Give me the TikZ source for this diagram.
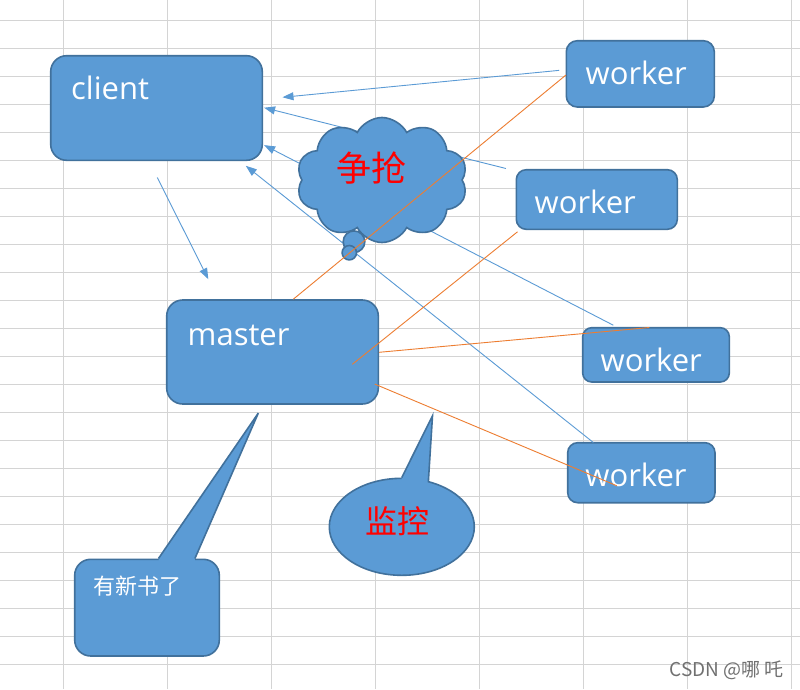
\documentclass[tikz,border=0pt]{standalone}
\usepackage{fontspec}
\setmainfont{Open Sans}
\newfontfamily\cjk{Noto Sans CJK SC}
\usetikzlibrary{shapes.symbols,shapes.geometric,arrows.meta,calc}
\definecolor{boxfill}{HTML}{5B9BD5}
\definecolor{boxline}{HTML}{41719C}
\definecolor{orangeline}{HTML}{ED7D31}
\definecolor{gridc}{HTML}{D4D4D4}
\definecolor{wm}{HTML}{707070}
\begin{document}
\begin{tikzpicture}[x=1pt,y=-1pt,
  gridline/.style={gridc,line width=1pt},
  shapebox/.style={draw=boxline,fill=boxfill,line width=1.6pt,inner sep=0pt},
  lbl/.style={anchor=base west,inner sep=0pt,text=white,font=\fontsize{31}{31}\selectfont},
  redlbl/.style={inner sep=0pt,text=red},
  bluearrow/.style={boxfill,line width=0.9pt,-{Triangle[length=11pt,width=8pt]}},
  orangelink/.style={orangeline,line width=0.9pt},
]
% background and sheet grid
\fill[white] (0,0) rectangle (800,689);
\useasboundingbox (0,0) rectangle (800,689);
\foreach \i in {0,...,7} \draw[gridline] ({63.3+104*\i},0) -- ({63.3+104*\i},689);
\foreach \j in {0,...,23} \draw[gridline] (0,{20.3+28*\j}) -- (800,{20.3+28*\j});

% boxes
\node[shapebox,rounded corners=16pt,minimum width=211.6pt,minimum height=104.6pt] (client) at (156.5,108) {};
\node[shapebox,rounded corners=11pt,minimum width=148pt,minimum height=66.3pt] (w1) at (640.3,73.85) {};
\node[shapebox,rounded corners=10pt,minimum width=161pt,minimum height=59.6pt] (w2) at (596.8,199.5) {};
\node[shapebox,rounded corners=9pt,minimum width=146.6pt,minimum height=54.3pt] (w3) at (656,354.85) {};
\node[shapebox,rounded corners=10pt,minimum width=147.3pt,minimum height=60pt] (w4) at (641.35,472.7) {};
\node[shapebox,rounded corners=16pt,minimum width=211.6pt,minimum height=104pt] (master) at (272.5,352) {};

% blue arrows (behind the cloud)
\draw[bluearrow] ($(w1.west)+(-6.3,-3.5)$) -- ($(client.east)+(19.4,-10.7)$);
\draw[bluearrow] ($(w2.north west)+(-9.6,-0.4)$) -- ($(client.east)+(1,-0.3)$);
\draw[bluearrow] ($(w3.north)+(-42.7,-1.7)$) -- ($(client.south east)+(1,-16)$);
\draw[bluearrow] ($(w4.north)+(-48,0.6)$) -- ($(client.south east)+(-17.3,4.7)$);
\draw[bluearrow] ($(client.south)+(0.8,16.4)$) -- ($(master.north)+(-64.2,-20)$);

% thought cloud
\node[shapebox,cloud,cloud puffs=10,cloud puff arc=125,cloud ignores aspect,minimum width=171pt,minimum height=125pt] (cloud) at (382,180) {};
\node[shapebox,circle,minimum size=21.6pt] (bub1) at (354,241.7) {};
\node[shapebox,circle,minimum size=14.4pt] (bub2) at (349.3,252.7) {};
\node[redlbl,font=\cjk\fontsize{35}{35}\selectfont] (fight) at (371.3,168.3) {争抢};

% labels
\node[lbl] (clientlbl) at (71,99.3) {client};
\node[lbl] (w1lbl) at (585.5,84.3) {worker};
\node[lbl] (w2lbl) at (534.5,213.3) {worker};
\node[lbl] (w3lbl) at (600.5,371) {worker};
\node[lbl] (w4lbl) at (585.2,486.7) {worker};
\node[lbl] (masterlbl) at (187.5,345.7) {master};

% orange links
\draw[orangelink] ($(w1.west)+(0.4,1.2)$) -- ($(master.north)+(20.8,0)$);
\draw[orangelink] ($(w2.south west)+(2,1.7)$) -- ($(master.center)+(79.8,12.3)$);
\draw[orangelink] ($(master.east)+(0,0.3)$) -- ($(w3.north)+(-6.7,0.6)$);
\draw[orangelink] ($(master.south east)+(-4.3,-20.7)$) -- ($(w4.center)+(-24.65,13)$);

% rectangular callout
\node[shapebox,rounded corners=16pt,minimum width=144.6pt,minimum height=96.7pt] (note) at (147,607.65) {};
\coordinate (notetip) at ($(master.south)+(-14.2,8.3)$);
\coordinate (noteL) at ($(note.north west)+(84.6,0)$);
\coordinate (noteR) at ($(note.north west)+(121,0)$);
\fill[boxfill] (noteL) -- (notetip) -- (noteR) -- ($(noteR)+(0,4)$) -- ($(noteL)+(0,4)$) -- cycle;
\draw[boxline,line width=1.6pt,line join=miter] (noteL) -- (notetip) -- (noteR);
\node[inner sep=0pt,text=white,font=\cjk\fontsize{22}{22}\selectfont] (notelbl) at (137.5,586.2) {有新书了};

% oval callout
\node[shapebox,ellipse,minimum width=145pt,minimum height=97pt] (watch) at (401.8,526.8) {};
\coordinate (watchtip) at ($(master.south east)+(53.4,11)$);
\coordinate (watchL) at (401.7,477.7);
\coordinate (watchR) at (428.3,482.3);
\fill[boxfill] (watchL) -- (watchtip) -- (watchR) -- (watch.center) -- cycle;
\draw[boxline,line width=1.6pt,line join=miter] (watchL) -- (watchtip) -- (watchR);
\node[redlbl,font=\cjk\fontsize{32}{32}\selectfont] (watchlbl) at (397.5,521) {监控};

% watermark
\node[inner sep=0pt,text=wm,font=\cjk\fontsize{19}{19}\selectfont] (wmark) at (726.5,670.5) {CSDN @哪 吒};
\end{tikzpicture}
\end{document}
